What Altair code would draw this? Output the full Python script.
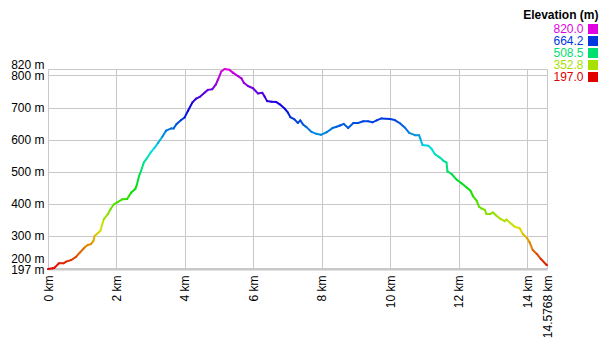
import altair as alt
import pandas as pd

# distance along the route (km) and elevation (m)
km = [0.00, 0.14, 0.19, 0.32, 0.46, 0.53, 0.68, 0.82, 0.92, 1.07, 1.16, 1.26, 1.33, 1.36,
      1.46, 1.53, 1.63, 1.75, 1.83, 1.92, 2.01, 2.17, 2.31, 2.43, 2.55, 2.60, 2.66, 2.72,
      2.80, 2.87, 3.00, 3.11, 3.21, 3.34, 3.45, 3.60, 3.67, 3.75, 3.89, 3.99, 4.09, 4.22,
      4.33, 4.43, 4.58, 4.67, 4.80, 4.90, 4.97, 5.06, 5.16, 5.29, 5.41, 5.55, 5.65, 5.72,
      5.84, 5.99, 6.13, 6.26, 6.33, 6.40, 6.53, 6.67, 6.77, 6.92, 7.01, 7.08, 7.20, 7.30,
      7.37, 7.45, 7.55, 7.70, 7.84, 7.97, 8.14, 8.31, 8.43, 8.53, 8.64, 8.77, 8.92, 9.06,
      9.21, 9.35, 9.48, 9.60, 9.74, 9.99, 10.13, 10.28, 10.42, 10.55, 10.72, 10.84, 10.89,
      10.94, 11.11, 11.20, 11.30, 11.45, 11.55, 11.64, 11.67, 11.79, 11.93, 12.08, 12.24,
      12.34, 12.42, 12.52, 12.59, 12.66, 12.76, 12.81, 12.91, 13.00, 13.10, 13.22, 13.34,
      13.39, 13.54, 13.63, 13.78, 13.87, 13.99, 14.07, 14.16, 14.28, 14.40, 14.55, 14.5768]
elev = [197, 199, 201, 215, 215, 220, 225, 235, 247, 264, 272, 275, 285, 300,
        309, 316, 352, 368, 384, 398, 404, 414, 415, 435, 446, 461, 487, 503,
        529, 539, 560, 574, 589, 609, 628, 635, 635, 648, 661, 669, 690, 716,
        728, 733, 747, 755, 757, 771, 788, 812, 820, 818, 808, 798, 791, 777,
        767, 760, 744, 746, 734, 720, 718, 717, 710, 696, 684, 670, 663, 652,
        660, 647, 639, 624, 618, 615, 623, 636, 640, 644, 649, 636, 652, 652,
        657, 657, 654, 660, 666, 664, 661, 651, 638, 621, 614, 614, 599,
        583, 581, 572, 555, 544, 534, 529, 501, 493, 476, 464, 450,
        441, 423, 410, 391, 386, 381, 368, 368, 373, 363, 353, 346,
        351, 337, 329, 324, 306, 294, 280, 256, 244, 228, 211, 209]

x_ticks = [0, 2, 4, 6, 8, 10, 12, 14, 14.5768]
y_ticks = [197, 200, 300, 400, 500, 600, 700, 800, 820]
legend_values = [820.0, 664.2, 508.5, 352.8, 197.0]
color_stops = [197.0, 352.8, 508.5, 664.2, 820.0]
color_range = ["hsl(0,100%,44%)", "hsl(75,100%,44%)", "hsl(150,100%,44%)",
               "hsl(225,100%,44%)", "hsl(300,100%,44%)"]

df = pd.DataFrame({"km": km[:-1], "km2": km[1:], "elev": elev[:-1], "elev2": elev[1:]})
df["mid"] = (df["elev"] + df["elev2"]) / 2

grid = "#c8c8c8"
font = "Liberation Sans"

chart = alt.Chart(df).mark_rule(strokeWidth=2, strokeCap="round").encode(
    x=alt.X("km:Q",
            scale=alt.Scale(domain=[0, 14.5768], nice=False, zero=False),
            axis=alt.Axis(values=x_ticks, labelExpr="datum.value + ' km'", labelAngle=270,
                          ticks=False, labelPadding=6, grid=True, gridColor=grid,
                          domainColor=grid, domainWidth=2, title=None,
                          labelFontSize=12, labelColor="#000", labelOverlap=False,
                          labelFlush=False)),
    x2="km2:Q",
    y=alt.Y("elev:Q",
            scale=alt.Scale(domain=[197, 820], nice=False, zero=False),
            axis=alt.Axis(values=y_ticks, labelExpr="datum.value + ' m'", ticks=False,
                          labelPadding=4, domain=False, grid=True, gridColor=grid,
                          title=None, labelFontSize=12, labelColor="#000",
                          labelOverlap=False, labelFlush=False,
                          labelOffset={"condition": [
                              {"test": "datum.value == 200", "value": -10},
                              {"test": "datum.value == 820", "value": -5}],
                              "value": 0})),
    y2="elev2:Q",
    color=alt.Color("mid:Q",
                    scale=alt.Scale(domain=color_stops, range=color_range, interpolate="hsl"),
                    legend=alt.Legend(
                        type="symbol", values=legend_values, format=".1f",
                        title="Elevation (m)", orient="none", legendX=475.5, legendY=-59,
                        symbolType="square", symbolSize=100, symbolStrokeWidth=0,
                        symbolFillColor={"expr": "scale('color', datum.value)"},
                        labelColor={"expr": "scale('color', datum.value)"},
                        labelAlign="right", labelOffset={"expr": "-15.5"}, symbolOffset=39.5,
                        labelFontSize=12, titleFontSize=12, titleFontWeight="bold",
                        titleColor="#000", titleAnchor="end", titleAlign="right",
                        titlePadding=1, rowPadding=0)),
).properties(
    width=499, height=200,
    autosize=alt.AutoSizeParams(type="none"),
    padding={"left": 48, "top": 69, "right": 53, "bottom": 75},
    background="white",
).configure(font=font).configure_view(stroke=None)

chart.save("out.html", embed_options={"renderer": "svg", "actions": False})
